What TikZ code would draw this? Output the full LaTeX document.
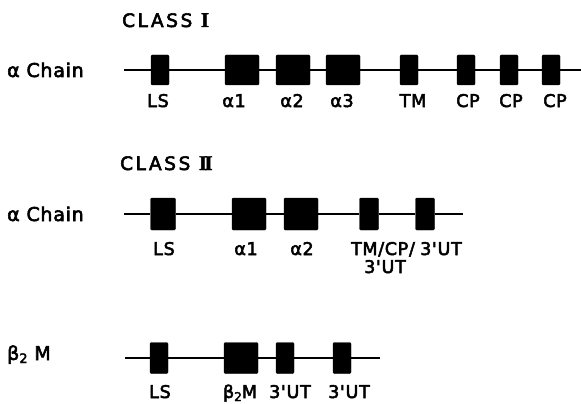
\documentclass[tikz,border=0pt]{standalone}
\usepackage{fontspec}
\setmainfont{DejaVu Sans}
\newfontfamily\labfont[LetterSpace=4,FakeBold=3]{DejaVu Sans}
\newfontfamily\clsfont[LetterSpace=14,FakeBold=3]{DejaVu Sans}
\newfontfamily\romfont[FakeBold=2]{Liberation Serif Bold}
\begin{document}
\begin{tikzpicture}[x=1pt,y=-1pt,
  exon/.style={fill=black,draw=black,rounded corners=1.2pt,inner sep=0pt,minimum height=30pt},
  sm/.style={exon,minimum width=18pt},
  lg/.style={exon,minimum width=34pt},
  gene/.style={line width=1.8pt},
  lab/.style={font=\labfont\fontsize{17.5}{17.5}\selectfont,inner sep=0pt,anchor=base},
  side/.style={font=\labfont\fontsize{19}{19}\selectfont,inner sep=0pt,anchor=base west},
  cls/.style={font=\clsfont\fontsize{18.5}{18.5}\selectfont,inner sep=0pt,anchor=base west}]
\useasboundingbox (0,0) rectangle (581,404);

% ---------- CLASS I ----------
\node[cls] (c1) at (122,27) {CLASS {\romfont\fontsize{21}{21}\selectfont I}};
\node[side] (r1) at (7,77) {α Chain};
\coordinate (s1) at (124,70);
\coordinate (e1) at (581,70);
\node[sm] (ls1) at (160,70) {};
\node[lg] (a11) at (242,70) {};
\node[lg] (a21) at (293,70) {};
\node[lg] (a31) at (343,70) {};
\node[sm] (tm1) at (409,70) {};
\node[sm] (cp1) at (466,70) {};
\node[sm] (cp2) at (509,70) {};
\node[sm] (cp3) at (551,70) {};
\draw[gene] (s1) -- (ls1) -- (a11) -- (a21) -- (a31) -- (tm1) -- (cp1) -- (cp2) -- (cp3) -- (e1);
\node[lab] (lls1) at (158,107) {LS};
\node[lab] (la11) at (234,107) {α1};
\node[lab] (la21) at (292,107) {α2};
\node[lab] (la31) at (342,107) {α3};
\node[lab] (ltm1) at (413,107) {TM};
\node[lab] (lcp1) at (468,107) {CP};
\node[lab] (lcp2) at (511,107) {CP};
\node[lab] (lcp3) at (555,107) {CP};

% ---------- CLASS II ----------
\node[cls] (c2) at (120,170) {CLASS {\romfont\fontsize{21}{21}\selectfont I\kern-2.6pt I}};
\node[side] (r2) at (7,221) {α Chain};
\coordinate (s2) at (124,214);
\coordinate (e2) at (463,214);
\node[sm,minimum width=25pt,minimum height=32pt] (ls2) at (163,214) {};
\node[lg,minimum height=32pt] (a12) at (249,214) {};
\node[lg,minimum height=32pt] (a22) at (301,214) {};
\node[sm,minimum width=19pt,minimum height=32pt] (tm2) at (369,214) {};
\node[sm,minimum width=19pt,minimum height=32pt] (ut2) at (425,214) {};
\draw[gene] (s2) -- (ls2) -- (a12) -- (a22) -- (tm2) -- (ut2) -- (e2);
\node[lab] (lls2) at (164,255) {LS};
\node[lab] (la12) at (246,255) {α1};
\node[lab] (la22) at (302,255) {α2};
\node[lab] (ltm2) at (383,255) {TM/CP/};
\node[lab] (ltm2b) at (385,273) {3'UT};
\node[lab] (lut2) at (441,255) {3'UT};

% ---------- beta2 M ----------
\node[side] (r3) at (7,360) {β\raisebox{-3pt}{\fontsize{13}{13}\selectfont 2} M};
\coordinate (s3) at (125,358);
\coordinate (e3) at (380,358);
\node[sm,minimum height=31pt] (ls3) at (159,358) {};
\node[lg,minimum height=31pt] (b3) at (241,358) {};
\node[sm,minimum height=31pt] (u31) at (285,358) {};
\node[sm,minimum height=31pt] (u32) at (342,358) {};
\draw[gene] (s3) -- (ls3) -- (b3) -- (u31) -- (u32) -- (e3);
\node[lab] (lls3) at (160,398) {LS};
\node[lab] (lb3) at (240,398) {β\raisebox{-3pt}{\fontsize{12}{12}\selectfont 2}M};
\node[lab] (lu31) at (290,398) {3'UT};
\node[lab] (lu32) at (349,398) {3'UT};
\end{tikzpicture}
\end{document}
